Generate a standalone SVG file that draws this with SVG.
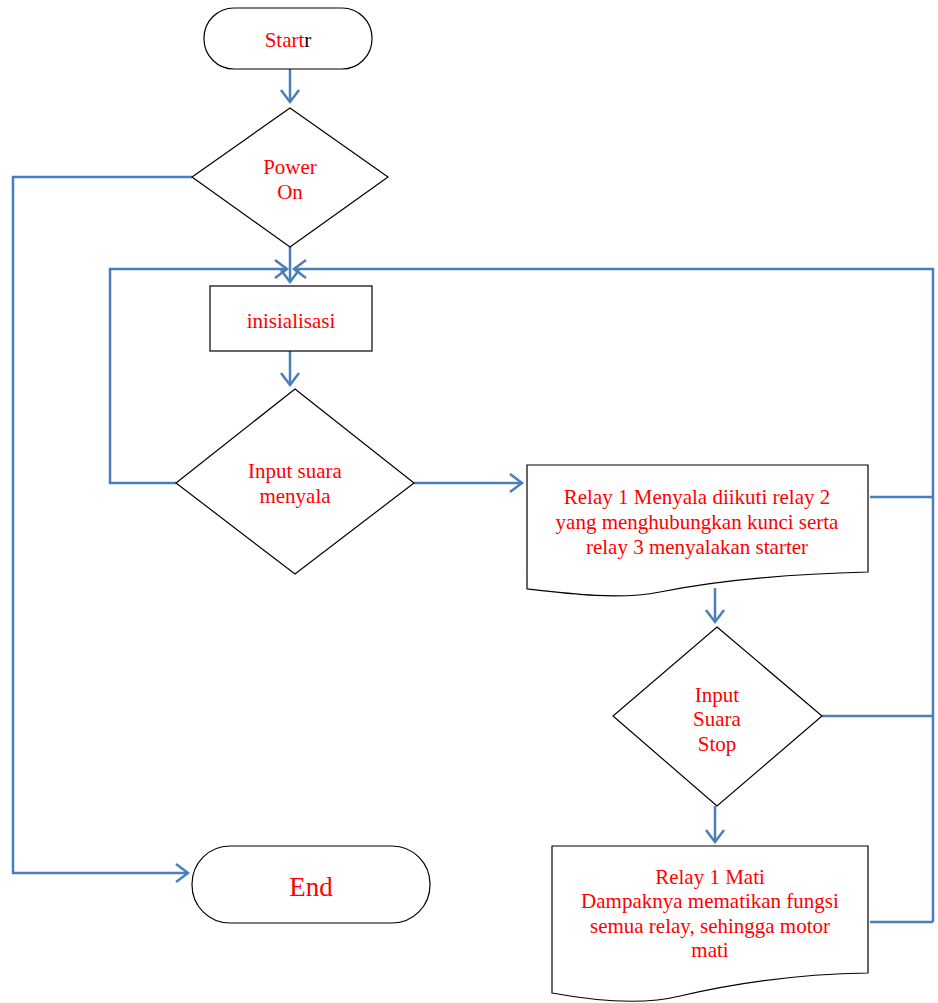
<svg xmlns="http://www.w3.org/2000/svg" width="938" height="1003" viewBox="0 0 938 1003">
<style>
.sh{fill:#fff;stroke:#000;stroke-width:1.2}
.t{font-family:"Liberation Serif","Times New Roman",serif;font-size:21px;fill:#ff0000;text-anchor:middle}
.c{fill:none;stroke:#4a7ebb;stroke-width:2.5}
</style>
<defs>
<marker id="a" markerUnits="userSpaceOnUse" markerWidth="30" markerHeight="30" refX="20" refY="15" orient="auto">
<polyline points="8,6 20,15 8,24" fill="none" stroke="#4a7ebb" stroke-width="2.5"/>
</marker>
</defs>
<g id="connectors">
<line class="c" x1="290" y1="69" x2="290" y2="102" marker-end="url(#a)"/>
<polyline class="c" points="192,177 13,177 13,873 188,873" marker-end="url(#a)"/>
<line class="c" x1="290" y1="247" x2="290" y2="282" marker-end="url(#a)"/>
<polyline class="c" points="176,483 110,483 110,269 287,269" marker-end="url(#a)"/>
<polyline class="c" points="933,922 933,269 294,269" marker-end="url(#a)"/>
<line class="c" x1="290" y1="351" x2="290" y2="385" marker-end="url(#a)"/>
<line class="c" x1="414" y1="483" x2="522" y2="483" marker-end="url(#a)"/>
<line class="c" x1="715" y1="588" x2="715" y2="622" marker-end="url(#a)"/>
<line class="c" x1="715" y1="806" x2="715" y2="842" marker-end="url(#a)"/>
<line class="c" x1="870" y1="497" x2="933" y2="497"/>
<line class="c" x1="822" y1="716" x2="933" y2="716"/>
<line class="c" x1="870" y1="922" x2="933" y2="922"/>
</g>
<g id="start">
<rect class="sh" x="204" y="8" width="168" height="61" rx="30" ry="30"/>
<text class="t" x="288" y="47">Start<tspan fill="#000">r</tspan></text>
</g>
<g id="power-on">
<polygon class="sh" points="290,108 388,177 290,247 192,177"/>
<text class="t" x="290" y="174">Power</text>
<text class="t" x="290" y="199">On</text>
</g>
<g id="inisialisasi">
<rect class="sh" x="210" y="286" width="162" height="65"/>
<text class="t" x="291" y="328">inisialisasi</text>
</g>
<g id="input-suara-menyala">
<polygon class="sh" points="295,389 414,483 295,574 176,483"/>
<text class="t" x="295" y="478">Input suara</text>
<text class="t" x="295" y="503">menyala</text>
</g>
<g id="relay-menyala">
<path class="sh" d="M527,465 H868 V572 C790,574 720,580 660,592 C620,600 570,594 527,589 Z"/>
<text class="t" x="697" y="504">Relay 1 Menyala diikuti relay 2</text>
<text class="t" x="697" y="529">yang menghubungkan kunci serta</text>
<text class="t" x="697" y="554">relay 3 menyalakan starter</text>
</g>
<g id="input-suara-stop">
<polygon class="sh" points="717,627 822,716 717,806 613,716"/>
<text class="t" x="717" y="702">Input</text>
<text class="t" x="717" y="726">Suara</text>
<text class="t" x="717" y="751">Stop</text>
</g>
<g id="relay-mati">
<path class="sh" d="M552,846 H868 V973 C800,974 740,982 680,996 C640,1006 590,1000 552,993 Z"/>
<text class="t" x="710" y="884">Relay 1 Mati</text>
<text class="t" x="710" y="908">Dampaknya mematikan fungsi</text>
<text class="t" x="710" y="933">semua relay, sehingga motor</text>
<text class="t" x="710" y="957">mati</text>
</g>
<g id="end">
<rect class="sh" x="192" y="846" width="238" height="77" rx="38" ry="38"/>
<text class="t" x="311" y="896" style="font-size:27px">End</text>
</g>
</svg>
